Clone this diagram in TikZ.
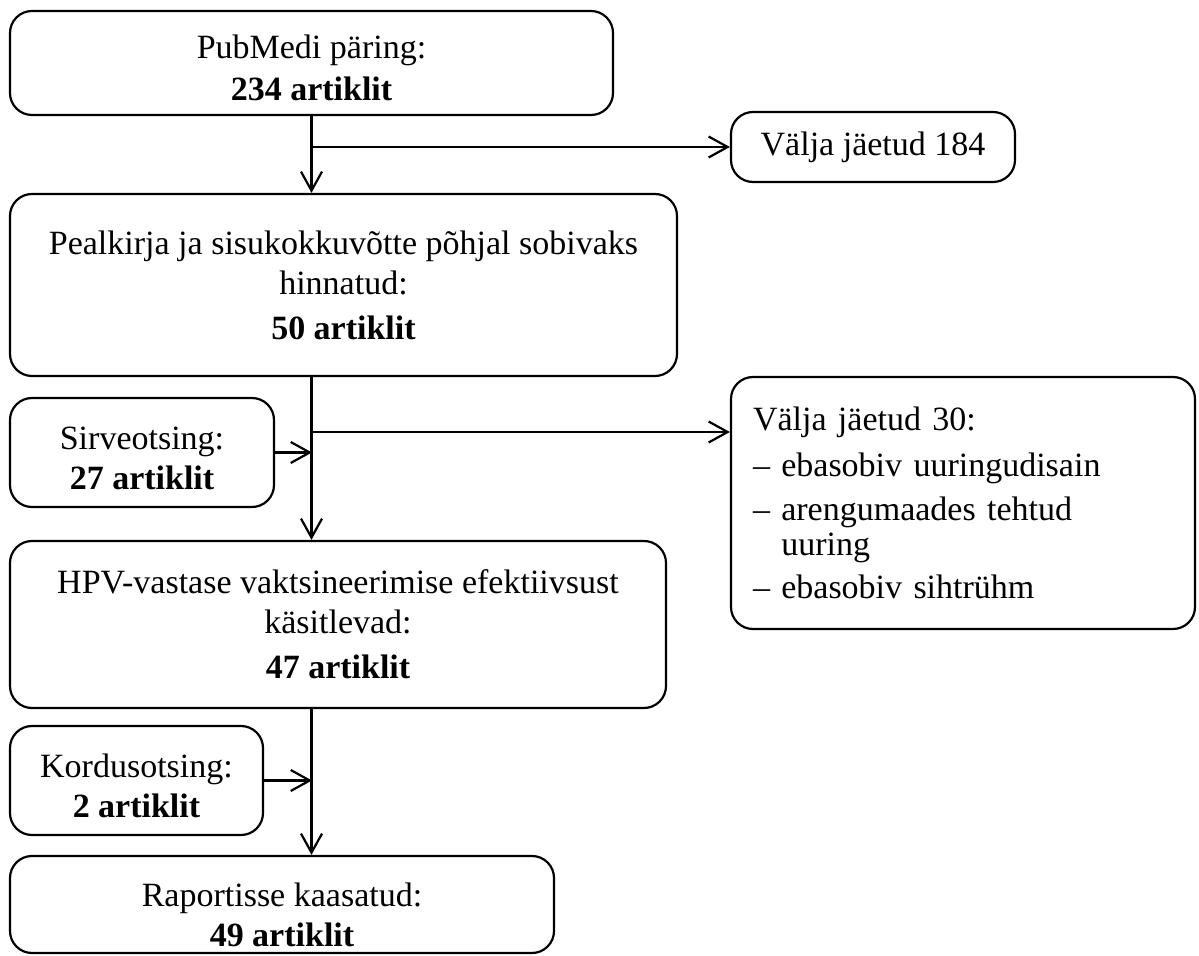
\documentclass[tikz,border=0pt]{standalone}
\usepackage{fontspec}
\setmainfont{Liberation Serif}
\usetikzlibrary{positioning, arrows.meta}

\begin{document}
\begin{tikzpicture}[x=0.5pt, y=-0.5pt,
    box/.style={draw, line width=1.1pt, rounded corners=11pt, align=center, inner sep=0pt,
        font=\fontsize{17}{20}\selectfont},
    arr/.style={-{Straight Barb[length=9.5pt,width=10.5pt]}, line width=1.1pt}]
    \useasboundingbox (0,0) rectangle (1199,956);

    % Main column
    \node[box, minimum width=301.5pt, minimum height=52pt] (pub) at (311.5,63)
        {\rule{0pt}{17pt}PubMedi päring:\\[1pt] \textbf{234 artiklit}};
    \node[box, minimum width=333.5pt, minimum height=91pt] (title) at (343.5,285)
        {Pealkirja ja sisukokkuvõtte põhjal sobivaks\\ hinnatud:\\[2.5pt] \textbf{50 artiklit}};
    \node[box, minimum width=328pt, minimum height=83.5pt] (hpv) at (338,624.5)
        {HPV-vastase vaktsineerimise efektiivsust\\ käsitlevad:\\[2.5pt] \textbf{47 artiklit}};
    \node[box, minimum width=272pt, minimum height=48.5pt] (final) at (282,904.5)
        {\rule{0pt}{22pt}Raportisse kaasatud:\\ \textbf{49 artiklit}};

    % Added searches
    \node[box, minimum width=132pt, minimum height=54.5pt] (sirve) at (142,452.5)
        {\rule{0pt}{17pt}Sirveotsing:\\ \textbf{27 artiklit}};
    \node[box, minimum width=126.5pt, minimum height=54.5pt] (kordus) at (136.5,780.5)
        {\rule{0pt}{17pt}Kordusotsing:\\ \textbf{2 artiklit}};

    % Excluded
    \node[box, minimum width=232pt, minimum height=126pt, align=left, inner xsep=11pt,
        text width=210pt, font=\fontsize{17}{17.5}\selectfont] (excl2) at (963,503)
        {Välja jäetud 30:\\[5.5pt]%
         – ebasobiv uuringudisain\\[4.5pt]%
         – arengumaades tehtud\\%
         \phantom{– }uuring\\[4pt]%
         – ebasobiv sihtrühm};
    \node[box, minimum width=142pt, minimum height=35pt] (excl1) at (873,147)
        {Välja jäetud 184};

    % Junctions on the spine
    \coordinate (j1) at (pub.south |- excl1.west);
    \coordinate (j2) at (312,432);

    % Arrows
    \draw[arr] (pub.south) -- (pub.south |- title.north);
    \draw[arr] (j1) -- (excl1.west);
    \draw[arr] (pub.south |- title.south) -- (pub.south |- hpv.north);
    \draw[arr] (j2) -- (j2 -| excl2.west);
    \draw[arr] (sirve.east) -- (sirve.east -| j2);
    \draw[arr] (pub.south |- hpv.south) -- (pub.south |- final.north);
    \draw[arr] (kordus.east) -- (kordus.east -| j2);
\end{tikzpicture}
\end{document}
